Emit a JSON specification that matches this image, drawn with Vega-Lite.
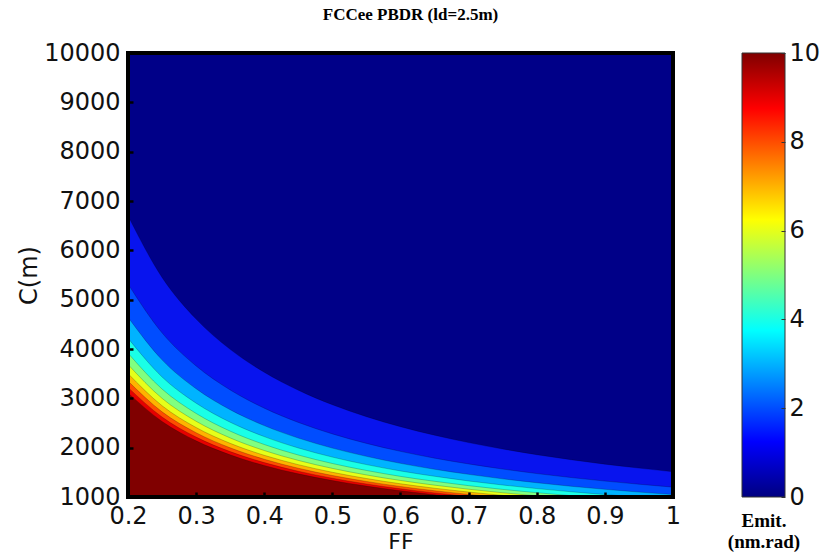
{
  "$schema": "https://vega.github.io/schema/vega-lite/v6.json",
  "background": "white",
  "padding": {"left": 17, "top": 6, "right": 0, "bottom": 0},
  "spacing": 46,
  "config": {"view": {"stroke": null}, "font": "DejaVu Sans"},
  "hconcat": [
    {
      "width": 545,
      "height": 444,
      "title": {"text": "FCCee PBDR (ld=2.5m)", "font": "Liberation Serif", "fontSize": 17, "fontWeight": "bold", "color": "#000", "offset": 17, "dx": 10, "anchor": "middle"},
      "layer": [
        {
          "data": {"values": [{"id": 1}]},
          "mark": {"type": "rect", "color": "#000088"},
          "encoding": {
            "x": {"datum": 0.2, "type": "quantitative", "title": "FF", "scale": {"domain": [0.2, 1], "nice": false, "zero": false},
              "axis": {"title": "FF", "values": [0.2, 0.3, 0.4, 0.5, 0.6, 0.7, 0.8, 0.9, 1], "format": "~g", "labelFlush": false, "labelFontSize": 24, "labelFont": "DejaVu Sans", "labelColor": "#111", "labelPadding": 12, "tickSize": -5, "tickWidth": 2.5, "tickColor": "#000", "domain": false, "grid": false, "zindex": 1, "titleFontSize": 22, "titleFont": "DejaVu Sans", "titleFontWeight": "normal", "titleColor": "#111", "titlePadding": 3}},
            "x2": {"datum": 1},
            "y": {"datum": 1000, "type": "quantitative", "title": "C(m)", "scale": {"domain": [1000, 10000], "nice": false, "zero": false},
              "axis": {"title": "C(m)", "values": [1000, 2000, 3000, 4000, 5000, 6000, 7000, 8000, 9000, 10000], "format": "d", "labelFlush": false, "labelFontSize": 24, "labelFont": "DejaVu Sans", "labelColor": "#111", "labelPadding": 13, "tickSize": -5, "tickWidth": 2.5, "tickColor": "#000", "domain": false, "grid": false, "zindex": 1, "titleFontSize": 24, "titleFont": "DejaVu Sans", "titleFontWeight": "normal", "titleColor": "#111", "titlePadding": 2}},
            "y2": {"datum": 10000}
          }
        },
        {
          "data": {"name": "bands", "values": [
            {"ff": 0.2, "c": 6700, "level": 1}, {"ff": 0.25, "c": 5451, "level": 1}, {"ff": 0.3, "c": 4606, "level": 1}, {"ff": 0.35, "c": 3993, "level": 1}, {"ff": 0.4, "c": 3529, "level": 1}, {"ff": 0.45, "c": 3165, "level": 1}, {"ff": 0.5, "c": 2871, "level": 1}, {"ff": 0.55, "c": 2629, "level": 1}, {"ff": 0.6, "c": 2425, "level": 1}, {"ff": 0.65, "c": 2253, "level": 1}, {"ff": 0.7, "c": 2103, "level": 1}, {"ff": 0.75, "c": 1973, "level": 1}, {"ff": 0.8, "c": 1858, "level": 1}, {"ff": 0.85, "c": 1757, "level": 1}, {"ff": 0.9, "c": 1666, "level": 1}, {"ff": 0.95, "c": 1586, "level": 1}, {"ff": 1.0, "c": 1512, "level": 1},
            {"ff": 0.2, "c": 5317, "level": 2}, {"ff": 0.25, "c": 4327, "level": 2}, {"ff": 0.3, "c": 3656, "level": 2}, {"ff": 0.35, "c": 3170, "level": 2}, {"ff": 0.4, "c": 2801, "level": 2}, {"ff": 0.45, "c": 2512, "level": 2}, {"ff": 0.5, "c": 2279, "level": 2}, {"ff": 0.55, "c": 2087, "level": 2}, {"ff": 0.6, "c": 1925, "level": 2}, {"ff": 0.65, "c": 1788, "level": 2}, {"ff": 0.7, "c": 1670, "level": 2}, {"ff": 0.75, "c": 1566, "level": 2}, {"ff": 0.8, "c": 1475, "level": 2}, {"ff": 0.85, "c": 1395, "level": 2}, {"ff": 0.9, "c": 1323, "level": 2}, {"ff": 0.95, "c": 1259, "level": 2}, {"ff": 1.0, "c": 1200, "level": 2},
            {"ff": 0.2, "c": 4645, "level": 3}, {"ff": 0.25, "c": 3780, "level": 3}, {"ff": 0.3, "c": 3194, "level": 3}, {"ff": 0.35, "c": 2769, "level": 3}, {"ff": 0.4, "c": 2447, "level": 3}, {"ff": 0.45, "c": 2195, "level": 3}, {"ff": 0.5, "c": 1991, "level": 3}, {"ff": 0.55, "c": 1824, "level": 3}, {"ff": 0.6, "c": 1682, "level": 3}, {"ff": 0.65, "c": 1562, "level": 3}, {"ff": 0.7, "c": 1459, "level": 3}, {"ff": 0.75, "c": 1368, "level": 3}, {"ff": 0.8, "c": 1289, "level": 3}, {"ff": 0.85, "c": 1218, "level": 3}, {"ff": 0.9, "c": 1156, "level": 3}, {"ff": 0.95, "c": 1100, "level": 3}, {"ff": 1.0, "c": 1049, "level": 3},
            {"ff": 0.2, "c": 4220, "level": 4}, {"ff": 0.25, "c": 3434, "level": 4}, {"ff": 0.3, "c": 2902, "level": 4}, {"ff": 0.35, "c": 2516, "level": 4}, {"ff": 0.4, "c": 2224, "level": 4}, {"ff": 0.45, "c": 1994, "level": 4}, {"ff": 0.5, "c": 1809, "level": 4}, {"ff": 0.55, "c": 1657, "level": 4}, {"ff": 0.6, "c": 1528, "level": 4}, {"ff": 0.65, "c": 1420, "level": 4}, {"ff": 0.7, "c": 1325, "level": 4}, {"ff": 0.75, "c": 1243, "level": 4}, {"ff": 0.8, "c": 1171, "level": 4}, {"ff": 0.85, "c": 1107, "level": 4}, {"ff": 0.9, "c": 1050, "level": 4}, {"ff": 0.95, "c": 999, "level": 4}, {"ff": 1.0, "c": 953, "level": 4},
            {"ff": 0.2, "c": 3917, "level": 5}, {"ff": 0.25, "c": 3188, "level": 5}, {"ff": 0.3, "c": 2694, "level": 5}, {"ff": 0.35, "c": 2335, "level": 5}, {"ff": 0.4, "c": 2064, "level": 5}, {"ff": 0.45, "c": 1851, "level": 5}, {"ff": 0.5, "c": 1679, "level": 5}, {"ff": 0.55, "c": 1538, "level": 5}, {"ff": 0.6, "c": 1418, "level": 5}, {"ff": 0.65, "c": 1318, "level": 5}, {"ff": 0.7, "c": 1230, "level": 5}, {"ff": 0.75, "c": 1154, "level": 5}, {"ff": 0.8, "c": 1087, "level": 5}, {"ff": 0.85, "c": 1028, "level": 5}, {"ff": 0.9, "c": 975, "level": 5}, {"ff": 0.95, "c": 928, "level": 5}, {"ff": 1.0, "c": 884, "level": 5},
            {"ff": 0.2, "c": 3687, "level": 6}, {"ff": 0.25, "c": 3000, "level": 6}, {"ff": 0.3, "c": 2535, "level": 6}, {"ff": 0.35, "c": 2198, "level": 6}, {"ff": 0.4, "c": 1942, "level": 6}, {"ff": 0.45, "c": 1742, "level": 6}, {"ff": 0.5, "c": 1580, "level": 6}, {"ff": 0.55, "c": 1447, "level": 6}, {"ff": 0.6, "c": 1335, "level": 6}, {"ff": 0.65, "c": 1240, "level": 6}, {"ff": 0.7, "c": 1158, "level": 6}, {"ff": 0.75, "c": 1086, "level": 6}, {"ff": 0.8, "c": 1023, "level": 6}, {"ff": 0.85, "c": 967, "level": 6}, {"ff": 0.9, "c": 917, "level": 6},
            {"ff": 0.2, "c": 3502, "level": 7}, {"ff": 0.25, "c": 2850, "level": 7}, {"ff": 0.3, "c": 2408, "level": 7}, {"ff": 0.35, "c": 2088, "level": 7}, {"ff": 0.4, "c": 1845, "level": 7}, {"ff": 0.45, "c": 1655, "level": 7}, {"ff": 0.5, "c": 1501, "level": 7}, {"ff": 0.55, "c": 1375, "level": 7}, {"ff": 0.6, "c": 1268, "level": 7}, {"ff": 0.65, "c": 1178, "level": 7}, {"ff": 0.7, "c": 1100, "level": 7}, {"ff": 0.75, "c": 1032, "level": 7}, {"ff": 0.8, "c": 972, "level": 7}, {"ff": 0.85, "c": 919, "level": 7},
            {"ff": 0.2, "c": 3350, "level": 8}, {"ff": 0.25, "c": 2726, "level": 8}, {"ff": 0.3, "c": 2303, "level": 8}, {"ff": 0.35, "c": 1997, "level": 8}, {"ff": 0.4, "c": 1765, "level": 8}, {"ff": 0.45, "c": 1583, "level": 8}, {"ff": 0.5, "c": 1436, "level": 8}, {"ff": 0.55, "c": 1315, "level": 8}, {"ff": 0.6, "c": 1213, "level": 8}, {"ff": 0.65, "c": 1127, "level": 8}, {"ff": 0.7, "c": 1052, "level": 8}, {"ff": 0.75, "c": 987, "level": 8}, {"ff": 0.8, "c": 929, "level": 8},
            {"ff": 0.2, "c": 3221, "level": 9}, {"ff": 0.25, "c": 2621, "level": 9}, {"ff": 0.3, "c": 2214, "level": 9}, {"ff": 0.35, "c": 1920, "level": 9}, {"ff": 0.4, "c": 1697, "level": 9}, {"ff": 0.45, "c": 1522, "level": 9}, {"ff": 0.5, "c": 1381, "level": 9}, {"ff": 0.55, "c": 1264, "level": 9}, {"ff": 0.6, "c": 1166, "level": 9}, {"ff": 0.65, "c": 1083, "level": 9}, {"ff": 0.7, "c": 1011, "level": 9}, {"ff": 0.75, "c": 949, "level": 9}, {"ff": 0.8, "c": 893, "level": 9},
            {"ff": 0.2, "c": 3110, "level": 10}, {"ff": 0.25, "c": 2531, "level": 10}, {"ff": 0.3, "c": 2138, "level": 10}, {"ff": 0.35, "c": 1854, "level": 10}, {"ff": 0.4, "c": 1638, "level": 10}, {"ff": 0.45, "c": 1469, "level": 10}, {"ff": 0.5, "c": 1333, "level": 10}, {"ff": 0.55, "c": 1221, "level": 10}, {"ff": 0.6, "c": 1126, "level": 10}, {"ff": 0.65, "c": 1046, "level": 10}, {"ff": 0.7, "c": 976, "level": 10}, {"ff": 0.75, "c": 916, "level": 10}
          ]},
          "layer": [
            {
              "mark": {"type": "area", "clip": true, "interpolate": "monotone"},
              "encoding": {
                "x": {"field": "ff", "type": "quantitative", "title": "FF"},
                "y": {"field": "c", "type": "quantitative", "stack": null, "title": "C(m)"},
                "y2": {"datum": 1000},
                "color": {"field": "level", "type": "ordinal", "legend": null,
                  "scale": {"domain": [1, 2, 3, 4, 5, 6, 7, 8, 9, 10], "range": ["#0814ee", "#004dff", "#00b3ff", "#1affe6", "#80ff80", "#e6ff1a", "#ffb300", "#ff4d00", "#e60000", "#800000"]}},
                "order": {"field": "level"}
              }
            },
            {
              "mark": {"type": "line", "clip": true, "interpolate": "monotone", "color": "#000", "strokeWidth": 0.6, "opacity": 0.35},
              "encoding": {
                "x": {"field": "ff", "type": "quantitative", "title": "FF"},
                "y": {"field": "c", "type": "quantitative", "title": "C(m)"},
                "detail": {"field": "level", "type": "ordinal"}
              }
            }
          ]
        },
        {
          "data": {"values": [{"id": 1}]},
          "mark": {"type": "rect", "fill": null, "fillOpacity": 0, "stroke": "#000", "strokeWidth": 4},
          "encoding": {
            "x": {"datum": 0.2, "type": "quantitative", "title": "FF"},
            "x2": {"datum": 1},
            "y": {"datum": 1000, "type": "quantitative", "title": "C(m)"},
            "y2": {"datum": 10000}
          }
        }
      ]
    },
    {
      "width": 43,
      "height": 444,
      "data": {"values": [{"lo": 0, "hi": 10, "a": 0, "b": 1}]},
      "mark": {"type": "rect", "stroke": "#333", "strokeWidth": 1,
        "color": {"gradient": "linear", "x1": 0, "y1": 1, "x2": 0, "y2": 0, "stops": [
          {"offset": 0, "color": "#000080"}, {"offset": 0.125, "color": "#0000ff"}, {"offset": 0.375, "color": "#00ffff"}, {"offset": 0.625, "color": "#ffff00"}, {"offset": 0.875, "color": "#ff0000"}, {"offset": 1, "color": "#800000"}]}},
      "encoding": {
        "x": {"field": "a", "type": "quantitative", "scale": {"domain": [0, 1], "nice": false},
          "axis": {"title": ["Emit.", "(nm.rad)"], "labels": false, "ticks": false, "domain": false, "grid": false, "titleFont": "Liberation Serif", "titleFontSize": 19, "titleFontWeight": "bold", "titleColor": "#000", "titlePadding": 14, "titleLineHeight": 21}},
        "x2": {"field": "b"},
        "y": {"field": "lo", "type": "quantitative", "scale": {"domain": [0, 10], "nice": false},
          "axis": {"orient": "right", "title": null, "values": [0, 2, 4, 6, 8, 10], "labelFlush": false, "labelFontSize": 24, "labelFont": "DejaVu Sans", "labelColor": "#111", "labelPadding": 8, "tickSize": -4, "tickWidth": 1, "tickColor": "#333", "domain": false, "grid": false, "zindex": 1}},
        "y2": {"field": "hi"}
      }
    }
  ]
}
